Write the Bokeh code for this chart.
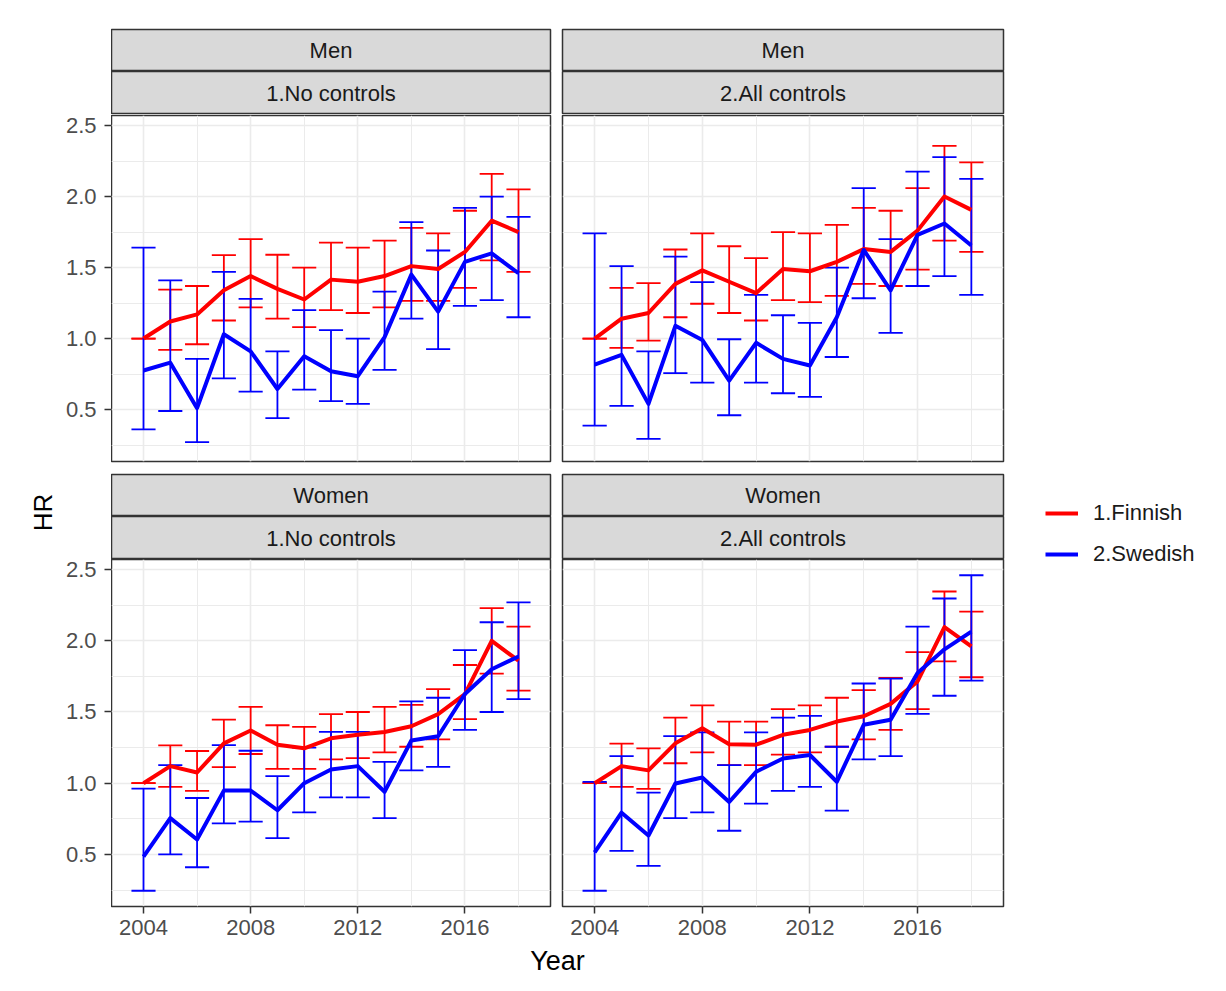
import math
from bokeh.plotting import figure
from bokeh.layouts import row, column
from bokeh.models import Range1d, FixedTicker, NumeralTickFormatter, Legend, LegendItem, ColumnDataSource
from bokeh.embed import file_html
from bokeh.resources import INLINE
from bokeh.core.properties import value

FONT = "Liberation Sans"

# ---------------- data ----------------
years = list(range(2004, 2019))
x_ticks = [2004, 2008, 2012, 2016]
x_minor = [2006, 2010, 2014, 2018]
y_ticks = [0.5, 1.0, 1.5, 2.0, 2.5]
y_minor = [0.25, 0.75, 1.25, 1.75, 2.25]
sexes = ["Men", "Women"]
models = ["1.No controls", "2.All controls"]
groups = ["1.Finnish", "2.Swedish"]
group_colors = ["#FF0000", "#0000FF"]

# Men, 1.No controls
men_nc_fin_hr = [1.00, 1.12, 1.17, 1.34, 1.44, 1.35, 1.275, 1.415, 1.40, 1.44, 1.51, 1.49, 1.61, 1.83, 1.75]
men_nc_fin_lo = [1.00, 0.92, 0.96, 1.127, 1.22, 1.14, 1.08, 1.20, 1.18, 1.22, 1.265, 1.265, 1.357, 1.55, 1.47]
men_nc_fin_hi = [1.00, 1.345, 1.37, 1.587, 1.70, 1.59, 1.50, 1.676, 1.64, 1.69, 1.78, 1.74, 1.90, 2.16, 2.05]
men_nc_swe_hr = [0.775, 0.83, 0.51, 1.03, 0.91, 0.645, 0.875, 0.77, 0.735, 1.01, 1.45, 1.19, 1.54, 1.60, 1.46]
men_nc_swe_lo = [0.36, 0.49, 0.27, 0.72, 0.627, 0.44, 0.64, 0.56, 0.54, 0.78, 1.14, 0.925, 1.23, 1.27, 1.15]
men_nc_swe_hi = [1.64, 1.41, 0.857, 1.47, 1.28, 0.91, 1.20, 1.06, 1.00, 1.33, 1.82, 1.62, 1.92, 2.00, 1.857]

# Men, 2.All controls
men_ac_fin_hr = [1.00, 1.14, 1.18, 1.385, 1.48, 1.40, 1.32, 1.49, 1.474, 1.54, 1.63, 1.61, 1.76, 2.00, 1.906]
men_ac_fin_lo = [1.00, 0.934, 0.986, 1.15, 1.245, 1.18, 1.127, 1.27, 1.256, 1.30, 1.385, 1.37, 1.486, 1.69, 1.61]
men_ac_fin_hi = [1.00, 1.357, 1.39, 1.627, 1.74, 1.65, 1.566, 1.75, 1.74, 1.80, 1.92, 1.90, 2.06, 2.357, 2.24]
men_ac_swe_hr = [0.817, 0.885, 0.54, 1.09, 0.99, 0.704, 0.97, 0.857, 0.81, 1.15, 1.624, 1.34, 1.73, 1.81, 1.655]
men_ac_swe_lo = [0.387, 0.526, 0.293, 0.756, 0.69, 0.46, 0.69, 0.615, 0.59, 0.87, 1.284, 1.04, 1.37, 1.44, 1.307]
men_ac_swe_hi = [1.74, 1.51, 0.91, 1.577, 1.397, 0.995, 1.307, 1.164, 1.11, 1.50, 2.06, 1.70, 2.176, 2.277, 2.124]

# Women, 1.No controls
wom_nc_fin_hr = [1.00, 1.12, 1.075, 1.28, 1.37, 1.27, 1.245, 1.315, 1.34, 1.36, 1.40, 1.485, 1.626, 2.00, 1.86]
wom_nc_fin_lo = [1.00, 0.974, 0.946, 1.113, 1.205, 1.10, 1.10, 1.167, 1.176, 1.216, 1.256, 1.308, 1.45, 1.77, 1.65]
wom_nc_fin_hi = [1.00, 1.266, 1.226, 1.447, 1.536, 1.407, 1.395, 1.485, 1.50, 1.536, 1.55, 1.66, 1.83, 2.23, 2.10]
wom_nc_swe_hr = [0.485, 0.755, 0.605, 0.948, 0.948, 0.81, 1.00, 1.096, 1.12, 0.94, 1.30, 1.33, 1.626, 1.80, 1.89]
wom_nc_swe_lo = [0.245, 0.50, 0.41, 0.718, 0.73, 0.614, 0.795, 0.90, 0.90, 0.755, 1.09, 1.115, 1.374, 1.50, 1.59]
wom_nc_swe_hi = [0.962, 1.127, 0.896, 1.268, 1.228, 1.05, 1.25, 1.36, 1.36, 1.15, 1.574, 1.60, 1.934, 2.13, 2.27]

# Women, 2.All controls
wom_ac_fin_hr = [1.00, 1.12, 1.09, 1.28, 1.386, 1.273, 1.27, 1.34, 1.374, 1.433, 1.47, 1.557, 1.715, 2.096, 1.96]
wom_ac_fin_lo = [1.00, 0.974, 0.96, 1.14, 1.216, 1.127, 1.127, 1.20, 1.216, 1.256, 1.308, 1.374, 1.52, 1.856, 1.744]
wom_ac_fin_hi = [1.00, 1.278, 1.245, 1.46, 1.546, 1.433, 1.433, 1.52, 1.546, 1.60, 1.654, 1.74, 1.92, 2.346, 2.205]
wom_ac_swe_hr = [0.515, 0.793, 0.633, 0.998, 1.04, 0.868, 1.08, 1.174, 1.198, 1.01, 1.41, 1.445, 1.774, 1.94, 2.064]
wom_ac_swe_lo = [0.245, 0.525, 0.42, 0.755, 0.795, 0.666, 0.857, 0.946, 0.974, 0.807, 1.167, 1.19, 1.487, 1.614, 1.72]
wom_ac_swe_hi = [1.01, 1.19, 0.934, 1.33, 1.357, 1.127, 1.357, 1.46, 1.473, 1.256, 1.70, 1.734, 2.10, 2.297, 2.46]

panels = {
    ("Men", "1.No controls"): [(men_nc_fin_hr, men_nc_fin_lo, men_nc_fin_hi), (men_nc_swe_hr, men_nc_swe_lo, men_nc_swe_hi)],
    ("Men", "2.All controls"): [(men_ac_fin_hr, men_ac_fin_lo, men_ac_fin_hi), (men_ac_swe_hr, men_ac_swe_lo, men_ac_swe_hi)],
    ("Women", "1.No controls"): [(wom_nc_fin_hr, wom_nc_fin_lo, wom_nc_fin_hi), (wom_nc_swe_hr, wom_nc_swe_lo, wom_nc_swe_hi)],
    ("Women", "2.All controls"): [(wom_ac_fin_hr, wom_ac_fin_lo, wom_ac_fin_hi), (wom_ac_swe_hr, wom_ac_swe_lo, wom_ac_swe_hi)],
}

# ---------------- scales (ggplot-like expansion) ----------------
CAP = 0.45
x0, x1 = years[0] - CAP, years[-1] + CAP
xpad = 0.05 * (x1 - x0)
all_lo = min(min(s[1]) for v in panels.values() for s in v)
all_hi = max(max(s[2]) for v in panels.values() for s in v)
ypad = 0.05 * (all_hi - all_lo)
XR = (x0 - xpad, x1 + xpad)
YR = (all_lo - ypad, all_hi + ypad)

# ---------------- layout geometry ----------------
OFF = 8
HR_W = 54 + OFF
AX_W = 49
LEFT_W = 445
RIGHT_W, RIGHT_MBL = 453, 6
MBR = 6
GRID = "#EBEBEB"
DARK = "#333333"
TXT = "22px"

# vertical pieces
S1_TOP_H, S1_TOP_MBT = 63 + OFF, 21 + OFF
S2_H = 43
P_TOP_H, P_TOP_MBT, P_TOP_MBB = 353, 1, 6
S1_BOT_H, S1_BOT_MBT = 49, 7
P_BOT_H, P_BOT_MBT, P_BOT_MBB = 387, 0, 40


def bare(p):
    p.grid.visible = False
    p.outline_line_color = None
    return p


def style_axis(ax, standoff):
    ax.axis_line_color = None
    ax.major_tick_out = 7
    ax.major_tick_in = 0
    ax.minor_tick_out = 0
    ax.minor_tick_in = 0
    ax.major_tick_line_color = DARK
    ax.major_tick_line_width = 1.5
    ax.major_label_text_font = FONT
    ax.major_label_text_font_size = TXT
    ax.major_label_text_color = "#4D4D4D"
    ax.major_label_standoff = standoff


def make_strip(label, width, mbl, height, mbt):
    p = figure(width=width, height=height, x_range=Range1d(0, 1), y_range=Range1d(0, 1),
               x_axis_location=None, y_axis_location=None, output_backend="svg",
               toolbar_location=None, min_border_left=mbl, min_border_right=MBR,
               min_border_top=mbt, min_border_bottom=0)
    p.grid.visible = False
    p.background_fill_color = "#D9D9D9"
    p.outline_line_color = DARK
    p.outline_line_width = 1.5
    p.text(x=[0.5], y=[0.5], text=[label], text_align="center", text_baseline="middle",
           text_font=value(FONT), text_font_size=TXT, text_color="#1A1A1A")
    return p


def make_panel(key, width, mbl, height, mbt, mbb, show_x):
    p = figure(width=width, height=height, x_range=Range1d(*XR), y_range=Range1d(*YR),
               y_axis_location=None, output_backend="svg", toolbar_location=None,
               min_border_left=mbl, min_border_right=MBR, min_border_top=mbt, min_border_bottom=mbb)
    p.outline_line_color = DARK
    p.outline_line_width = 1.5
    xt = FixedTicker(ticks=x_ticks, minor_ticks=x_minor)
    yt = FixedTicker(ticks=y_ticks, minor_ticks=y_minor)
    p.xaxis.ticker = xt
    p.xgrid.ticker = xt
    p.ygrid.ticker = yt
    for g in (p.xgrid, p.ygrid):
        g.grid_line_color = GRID
        g.grid_line_width = 1.6
        g.minor_grid_line_color = GRID
        g.minor_grid_line_width = 1.0
    style_axis(p.xaxis[0], 6)
    p.xaxis.visible = show_x

    series = panels[key]
    # error bars first, then lines on top
    for (hr, lo, hi), col in zip(series, group_colors):
        src = ColumnDataSource(dict(x=years, lo=lo, hi=hi,
                                    xl=[y - CAP for y in years], xr=[y + CAP for y in years]))
        p.segment(x0="x", y0="lo", x1="x", y1="hi", source=src, line_color=col, line_width=1.8)
        p.segment(x0="xl", y0="lo", x1="xr", y1="lo", source=src, line_color=col, line_width=1.8)
        p.segment(x0="xl", y0="hi", x1="xr", y1="hi", source=src, line_color=col, line_width=1.8)
    for (hr, lo, hi), col in zip(series, group_colors):
        p.line(x=years, y=hr, line_color=col, line_width=4, line_join="round")
    return p


def make_yaxis_fig(height, mbt, mbb):
    # narrow figure that only carries the shared y axis of a panel row,
    # so that its labels may extend above the panel frame
    p = figure(width=AX_W, height=height, x_range=Range1d(0, 1), y_range=Range1d(*YR),
               x_axis_location=None, output_backend="svg", toolbar_location=None,
               min_border_left=AX_W - 1, min_border_right=0, min_border_top=mbt, min_border_bottom=mbb)
    p.grid.visible = False
    p.outline_line_color = None
    p.yaxis.ticker = FixedTicker(ticks=y_ticks, minor_ticks=y_minor)
    p.yaxis.formatter = NumeralTickFormatter(format="0.0")
    style_axis(p.yaxis[0], 8)
    return p


def make_column(model, width, mbl):
    figs = [
        make_strip(sexes[0], width, mbl, S1_TOP_H, S1_TOP_MBT),
        make_strip(model, width, mbl, S2_H, 0),
        make_panel((sexes[0], model), width, mbl, P_TOP_H, P_TOP_MBT, P_TOP_MBB, False),
        make_strip(sexes[1], width, mbl, S1_BOT_H, S1_BOT_MBT),
        make_strip(model, width, mbl, S2_H, 0),
        make_panel((sexes[1], model), width, mbl, P_BOT_H, P_BOT_MBT, P_BOT_MBB, True),
    ]
    return column(*figs, spacing=0)


col_axis = column(
    make_yaxis_fig(S1_TOP_H + S2_H + P_TOP_H, S1_TOP_H + S2_H + P_TOP_MBT, P_TOP_MBB),
    make_yaxis_fig(S1_BOT_H + S2_H + P_BOT_H, S1_BOT_H + S2_H + P_BOT_MBT, P_BOT_MBB),
    spacing=0)
col_left = make_column(models[0], LEFT_W, 0)
col_right = make_column(models[1], RIGHT_W, RIGHT_MBL)

COL_H = S1_TOP_H + S2_H + P_TOP_H + S1_BOT_H + S2_H + P_BOT_H

# HR axis title
hr_fig = bare(figure(width=HR_W, height=COL_H, x_range=Range1d(0, HR_W), y_range=Range1d(0, COL_H),
                     x_axis_location=None, y_axis_location=None, output_backend="svg",
                     toolbar_location=None, min_border=0))
hr_fig.text(x=[34 + OFF], y=[COL_H - 504 - OFF], text=["HR"], angle=math.pi / 2, text_align="center",
            text_baseline="middle", text_font=value(FONT), text_font_size="26px", text_color="#000000")

# legend figure
LEG_W = 1218 - HR_W - AX_W - LEFT_W - RIGHT_W
leg_fig = bare(figure(width=LEG_W, height=COL_H, x_range=Range1d(0, 1), y_range=Range1d(0, 1),
                      x_axis_location=None, y_axis_location=None, output_backend="svg",
                      toolbar_location=None, min_border=0))
items = []
for g, col in zip(groups, group_colors):
    # placeholder renderer lying outside the visible range, only used for the legend key
    r = leg_fig.line(x=[5, 6], y=[5, 6], line_color=col, line_width=4)
    items.append(LegendItem(label=g, renderers=[r]))
legend = Legend(items=items, location=(36, COL_H - 525 - OFF - 36), glyph_width=33, glyph_height=30,
                label_height=30, spacing=11, padding=0, margin=0, label_standoff=15,
                label_text_font=FONT, label_text_font_size=TXT, label_text_color="#1A1A1A",
                border_line_color=None, background_fill_alpha=0)
leg_fig.add_layout(legend)

# Year axis title
year_fig = bare(figure(width=1218, height=37, x_range=Range1d(0, 1218), y_range=Range1d(0, 37),
                       x_axis_location=None, y_axis_location=None, output_backend="svg",
                       toolbar_location=None, min_border=0))
year_fig.text(x=[549 + OFF], y=[23], text=["Year"], text_align="center", text_baseline="middle",
              text_font=value(FONT), text_font_size="27px", text_color="#000000")

layout = column(row(hr_fig, col_axis, col_left, col_right, leg_fig, spacing=0), year_fig, spacing=0)

open("out.html", "w").write(file_html(layout, INLINE))
